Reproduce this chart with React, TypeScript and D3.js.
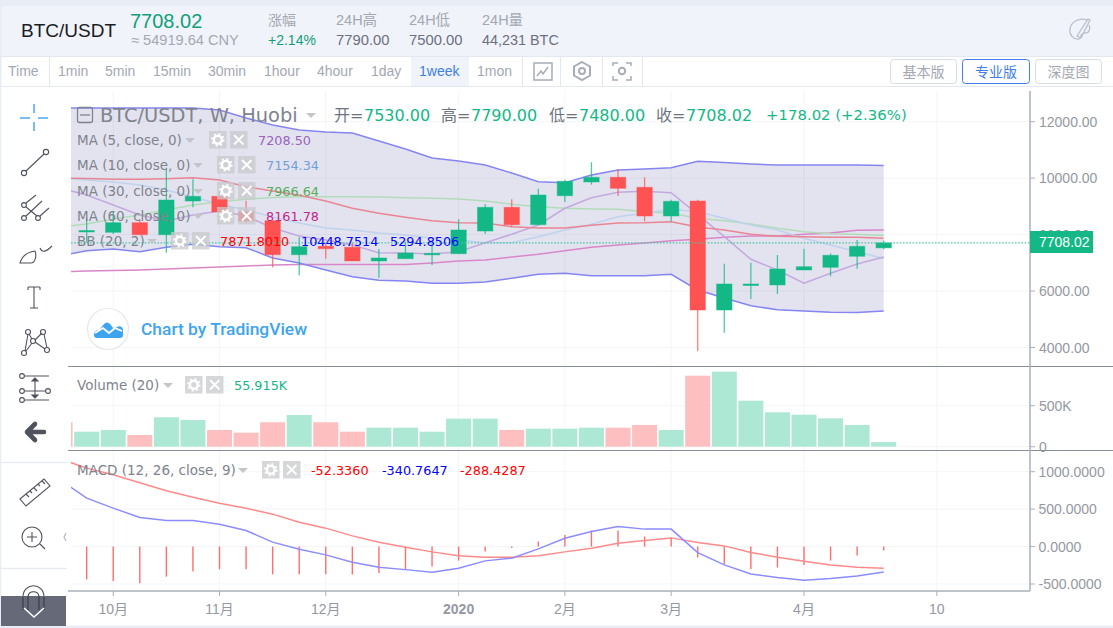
import * as d3 from "d3";

// first entry of every series is the week cut off behind the left toolbar
const opens = [8560, 8120, 8081, 8422, 7996, 9190, 9357, 8811, 8492, 7288, 7585, 7550, 7065, 7146, 7313, 7323, 8127, 8967, 8351, 9378, 9864, 10030, 9676, 8659, 9190, 5328, 6210, 6215, 6746, 6841, 7231, 7530];
const highs = [8700, 8590, 8800, 8553, 10370, 9959, 9545, 9201, 8492, 7904, 7702, 7713, 7490, 7748, 7713, 8542, 9084, 9251, 9626, 9945, 10562, 10314, 10030, 9236, 9236, 6969, 7004, 7277, 7500, 7337, 7809, 7790];
const lows = [7900, 7720, 8020, 7996, 7359, 8967, 8801, 8422, 6841, 6558, 7146, 7065, 6473, 7146, 6923, 7323, 8021, 8280, 8351, 9155, 9768, 9368, 8471, 8471, 3865, 4524, 5718, 5895, 6746, 6523, 6792, 7480];
const closes = [8120, 8145, 8422, 7996, 9226, 9357, 8801, 8482, 7288, 7571, 7500, 7065, 7171, 7348, 7337, 8163, 8967, 8351, 9403, 9888, 10030, 9640, 8659, 9180, 5328, 6250, 6250, 6781, 6863, 7267, 7585, 7708.02];
const volumes = [298, 183, 204, 143, 359, 326, 204, 171, 298, 387, 298, 183, 232, 232, 183, 342, 342, 204, 220, 220, 232, 232, 265, 204, 866, 915, 561, 420, 390, 346, 265, 55.915];

const bbUpper = [12485, 12485, 12485, 12485, 12485, 12485, 12415, 12131, 11883, 11706, 11635, 11600, 11316, 11033, 10714, 10608, 10466, 10182, 9874, 9839, 10112, 10289, 10324, 10370, 10597, 10554, 10501, 10466, 10466, 10466, 10466, 10449];
const bbLower = [7242, 7430, 7490, 7394, 7550, 7656, 7571, 7536, 7171, 6994, 6746, 6508, 6381, 6356, 6275, 6275, 6320, 6452, 6593, 6629, 6544, 6544, 6544, 6593, 6037, 5754, 5481, 5339, 5290, 5250, 5240, 5295];
const bbBasis = [10005, 9988, 9959, 9959, 9980, 10016, 9934, 9697, 9545, 9392, 9190, 8932, 8755, 8613, 8492, 8422, 8411, 8280, 8234, 8234, 8329, 8411, 8422, 8457, 8269, 8163, 8011, 7940, 7926, 7904, 7904, 7872];
const ma5 = [9651, 9403, 9049, 8694, 8482, 8694, 8836, 8659, 8234, 7950, 7809, 7631, 7359, 7348, 7313, 7394, 7713, 8011, 8340, 8932, 9307, 9499, 9534, 9484, 8719, 7926, 7125, 6746, 6275, 6629, 6958, 7208];
const ma10 = [10005, 9934, 9864, 9757, 9580, 9332, 9084, 8872, 8624, 8411, 8234, 8163, 8057, 7986, 7880, 7809, 7713, 7713, 7926, 8163, 8365, 8634, 8755, 8896, 8811, 8578, 8340, 8163, 7869, 7631, 7394, 7154];
const ma30 = [8269, 8376, 8553, 8694, 8872, 9049, 9166, 9251, 9314, 9343, 9343, 9343, 9332, 9307, 9286, 9261, 9190, 9073, 8988, 8932, 8907, 8896, 8811, 8755, 8578, 8492, 8376, 8223, 8103, 8032, 8011, 7967];
const ma60 = [6675, 6710, 6728, 6746, 6781, 6817, 6852, 6888, 6923, 6941, 6941, 6941, 6941, 6941, 6994, 7065, 7100, 7206, 7302, 7429, 7550, 7631, 7702, 7784, 7833, 7904, 7950, 7950, 8011, 8057, 8150, 8162];

const macdLine = [891, 647, 513, 388, 348, 348, 299, 214, 59, -35, -111, -209, -275, -308, -342, -289, -191, -155, -31, 112, 201, 267, 233, 233, -80, -245, -365, -414, -449, -428, -392, -341];
const signalLine = [1173, 1048, 959, 852, 745, 660, 580, 513, 433, 326, 246, 143, 59, -8, -71, -124, -142, -142, -124, -71, -21, 45, 80, 116, 53, 9, -80, -142, -195, -245, -275, -288];
const histogram = [-420, -437, -459, -490, -401, -334, -303, -303, -370, -370, -370, -374, -352, -312, -267, -187, -67, -18, 67, 156, 214, 214, 134, 120, -147, -236, -298, -280, -245, -187, -120, -52];

const priceTicks = [12000, 10000, 8000, 6000, 4000];
const volumeTicks = [500, 0];
const volumeTickLabels = ["500K", "0"];
const macdTicks = [1000, 500, 0, -500];
const timeTicks = [2, 6, 10, 15, 19, 23, 28, 33];
const timeLabels = ["10月", "11月", "12月", "2020", "2月", "3月", "4月", "10"];
const intervals = ["Time", "1min", "5min", "15min", "30min", "1hour", "4hour", "1day", "1week", "1mon"];
const intervalX = [8, 58, 105, 153, 208, 264, 317, 371, 419, 477];
const toolbarDividers = [49, 522, 560, 602, 642];

const W = 1113;
const H = 628;
const PLOT_L = 71;
const PLOT_R = 1030;
const GREEN = "#13b886";
const RED = "#ff5252";
const GREY = "#9598a1";
const LEGEND = "#80838d";
const UI_FONT = "'Liberation Sans', 'Noto Sans CJK SC', sans-serif";
const CHART_FONT = "'DejaVu Sans', 'Noto Sans CJK SC', sans-serif";

const x = d3.scaleLinear().domain([0, 31]).range([60.1, 883.7]);
const yPrice = d3.scaleLinear().domain([4000, 12000]).range([347.5, 121.7]);
const yVolume = d3.scaleLinear().domain([0, 500]).range([446.7, 405.7]);
const yMacd = d3.scaleLinear().domain([-500, 1000]).range([584, 471.7]);

const priceLine = (s: number[]) =>
  d3.line<number>().x((_, i) => x(i)).y((d) => yPrice(d))(s) ?? undefined;
const macdPath = (s: number[]) =>
  d3.line<number>().x((_, i) => x(i)).y((d) => yMacd(d))(s) ?? undefined;
const bandPath =
  d3
    .area<number>()
    .x((_, i) => x(i))
    .y0((_, i) => yPrice(bbLower[i]))
    .y1((d) => yPrice(d))(bbUpper) ?? undefined;

const Sans = ({ x: tx, y, size = 14, fill = "#50535e", children, anchor }: any) => (
  <text x={tx} y={y} fontSize={size} fill={fill} fontFamily={UI_FONT} textAnchor={anchor} dominantBaseline="central">
    {children}
  </text>
);

const Leg = ({ x: tx, y, size = 13.5, fill = LEGEND, children, opacity }: any) => (
  <text x={tx} y={y} fontSize={size} fill={fill} fontFamily={CHART_FONT} dominantBaseline="central" opacity={opacity}>
    {children}
  </text>
);

const Buttons = ({ gx, cy }: { gx: number; cy: number }) => (
  <g>
    <rect x={gx} y={cy - 9} width={17.5} height={17.5} fill="#c8c9cc" opacity={0.75} />
    <circle cx={gx + 8.8} cy={cy - 0.2} r={4} fill="none" stroke="#fff" strokeWidth={2.6} />
    <circle cx={gx + 8.8} cy={cy - 0.2} r={6} fill="none" stroke="#fff" strokeWidth={1.6} strokeDasharray="2 2.7" />
    <rect x={gx + 21} y={cy - 9} width={17.5} height={17.5} fill="#c8c9cc" opacity={0.75} />
    <path d={`M${gx + 25} ${cy - 5}l9.5 9.5m0 -9.5l-9.5 9.5`} stroke="#fff" strokeWidth={1.8} />
  </g>
);

const Caret = ({ cx, cy }: { cx: number; cy: number }) => (
  <path d={`M${cx - 5} ${cy - 2}h10l-5 5z`} fill="#c4c5c9" />
);

const ToolIcons = () => (
  <g fill="none" stroke="#50535e" strokeWidth={1.1}>
    <path d="M34 104v9M34 122v9M20 118h10M38 118h10" stroke="#4ea8ee" strokeWidth={1.5} />
    <circle cx={24} cy={173} r={2.6} />
    <circle cx={46} cy={152} r={2.6} />
    <path d="M26 171L44 154" />
    <circle cx={24} cy={205} r={2.4} />
    <circle cx={24} cy={218} r={2.4} />
    <circle cx={38} cy={218} r={2.4} />
    <path d="M26 203l10 -8M26 216l16 -15M40 216l9 -8M26 207l11 9" />
    <path d="M20 263c2 -7 8 -11 15 -12c2 5 0 12 -4 12zM40 248c2 5 6 4 12 -2" />
    <path d="M28 287h12M34 287v21M30 308h8M28 287v3M40 287v3" />
    <circle cx={24} cy={353} r={2.5} />
    <circle cx={28} cy={332} r={2.5} />
    <circle cx={33} cy={341} r={2.5} />
    <circle cx={43} cy={332} r={2.5} />
    <circle cx={47} cy={350} r={2.5} />
    <path d="M25 351l3 -17M29 334l3 5M35 340l7 -7M44 334l3 14M35 342l10 7M26 351l6 -8" />
    <circle cx={22} cy={376} r={2.4} />
    <circle cx={22} cy={391} r={2.4} />
    <circle cx={22} cy={400} r={2.4} />
    <circle cx={48} cy={391} r={2.4} />
    <path d="M25 376h24M25 391h21M25 400h24M35 379v18" />
    <path d="M35 378l-3 3h6zM35 398l-3 -3h6z" fill="#50535e" />
    <path d="M27 432l8 -8M27 432l8 8M28 432h16" stroke="#50535e" strokeWidth={4.6} strokeLinecap="round" strokeLinejoin="round" />
    <path d="M20 499l24 -20l6 7l-24 20zM26 494l3 3M30 491l2 2M34 488l3 3M38 484l2 2M42 481l3 3" />
    <circle cx={32} cy={537} r={10} />
    <path d="M40 544l5 5M27 537h10M32 532v10" />
    <path d="M66 533l-2 4l2 4" stroke="#a9b4c4" />
  </g>
);

export default function App() {
  return (
    <svg width={W} height={H} viewBox={`0 0 ${W} ${H}`} style={{ position: "fixed", left: 0, top: 0, background: "#fff" }}>
      <defs>
        <clipPath id="price-clip"><rect x={PLOT_L} y={91} width={PLOT_R - PLOT_L} height={275} /></clipPath>
        <clipPath id="volume-clip"><rect x={PLOT_L} y={367} width={PLOT_R - PLOT_L} height={83} /></clipPath>
        <clipPath id="macd-clip"><rect x={PLOT_L} y={451} width={PLOT_R - PLOT_L} height={139} /></clipPath>
      </defs>

      {/* page frame and header */}
      <rect width={W} height={6} fill="#e8edf5" />
      <rect y={6} width={W} height={50} fill="#f0f3f9" />
      <rect y={0} width={1.5} height={H} fill="#e8edf5" />
      <rect y={625.5} width={W} height={3} fill="#e8edf5" />
      <line x1={0} x2={W} y1={56.5} y2={56.5} stroke="#e3e8f0" />
      <line x1={0} x2={W} y1={86.5} y2={86.5} stroke="#e3e8f0" />

      <Sans x={21} y={30} size={19} fill="#1a1d26">BTC/USDT</Sans>
      <Sans x={130} y={21} size={20} fill="#109f7a">7708.02</Sans>
      <Sans x={131} y={40} size={14.6} fill="#a4a8b2">≈ 54919.64 CNY</Sans>
      <Sans x={268} y={20} size={14} fill="#a4a8b2">涨幅</Sans>
      <Sans x={268} y={40} size={14} fill="#109f7a">+2.14%</Sans>
      <Sans x={336} y={20} size={14.5} fill="#a4a8b2">24H高</Sans>
      <Sans x={336} y={40} size={14.8} fill="#6c7080">7790.00</Sans>
      <Sans x={409} y={20} size={14.5} fill="#a4a8b2">24H低</Sans>
      <Sans x={409} y={40} size={14.8} fill="#6c7080">7500.00</Sans>
      <Sans x={482} y={20} size={14.5} fill="#a4a8b2">24H量</Sans>
      <Sans x={482} y={40} size={14.4} fill="#6c7080">44,231 BTC</Sans>
      <g fill="none" stroke="#b6bfcc" strokeWidth={1.3}>
        <path d="M1087 20c-8 -3 -16 2 -17 9c-1 6 4 11 9 10c3 -1 1 -4 3 -5c3 -2 6 0 7 -3c1 -2 1 -4 0 -6" />
        <path d="M1077 36l11 -17l2 1l-9 18z" />
      </g>

      {/* interval bar */}
      <rect x={411} y={57} width={58} height={29} fill="#f0f3f9" />
      {intervals.map((t, i) => (
        <Sans key={t} x={intervalX[i]} y={71} size={14} fill={t === "1week" ? "#3f7fe8" : "#a4a8b2"}>{t}</Sans>
      ))}
      {toolbarDividers.map((d) => (
        <line key={d} x1={d + 0.5} x2={d + 0.5} y1={57} y2={86} stroke="#e3e8f0" />
      ))}
      <g fill="none" stroke="#a7adb8" strokeWidth={1.5}>
        <rect x={534} y={63} width={18} height={17} />
        <path d="M537 76l4 -5l2 3l5 -7" />
        <path d="M582 62l8 4.5v9l-8 4.5l-8 -4.5v-9z" strokeWidth={2} />
        <circle cx={582} cy={71} r={3} strokeWidth={2} />
        <path d="M613 66v-3h5M626 63h5v3M631 76v4h-5M618 80h-5v-4" />
        <circle cx={622} cy={71} r={3.2} strokeWidth={2} />
      </g>
      {[
        { label: "基本版", bx: 890.5, bw: 66, c: "#d8dce3", t: "#a4a8b2" },
        { label: "专业版", bx: 962.5, bw: 67, c: "#3f7fe8", t: "#3f7fe8" },
        { label: "深度图", bx: 1035.5, bw: 66, c: "#d8dce3", t: "#a4a8b2" },
      ].map((b) => (
        <g key={b.label}>
          <rect x={b.bx} y={59.5} width={b.bw} height={24} rx={3} fill="#fff" stroke={b.c} />
          <Sans x={b.bx + b.bw / 2} y={72} size={14} fill={b.t} anchor="middle">{b.label}</Sans>
        </g>
      ))}

      {/* grid */}
      <g stroke="#f4f5f7">
        {timeTicks.map((t) => (
          <line key={t} x1={x(t)} x2={x(t)} y1={91} y2={590} />
        ))}
        {priceTicks.map((t) => (
          <line key={t} x1={PLOT_L} x2={PLOT_R} y1={yPrice(t)} y2={yPrice(t)} />
        ))}
        {volumeTicks.map((t) => (
          <line key={t} x1={PLOT_L} x2={PLOT_R} y1={yVolume(t)} y2={yVolume(t)} />
        ))}
        {macdTicks.map((t) => (
          <line key={t} x1={PLOT_L} x2={PLOT_R} y1={yMacd(t)} y2={yMacd(t)} />
        ))}
      </g>

      {/* price pane */}
      <g clipPath="url(#price-clip)" fill="none" strokeWidth={1.5}>
        <path d={bandPath} fill="#2a2a8c" fillOpacity={0.13} stroke="none" />
        <path d={priceLine(ma60)} stroke="#d987c8" />
        <path d={priceLine(ma30)} stroke="#b2dcb9" />
        <path d={priceLine(ma10)} stroke="#bfd2ee" />
        <path d={priceLine(ma5)} stroke="#c4a9de" />
        <path d={priceLine(bbBasis)} stroke="#ea8593" />
        <path d={priceLine(bbUpper)} stroke="#8585f2" />
        <path d={priceLine(bbLower)} stroke="#8585f2" />
        {closes.map((c, i) => {
          const up = c >= opens[i];
          const color = up ? GREEN : RED;
          const top = yPrice(Math.max(c, opens[i]));
          const bottom = yPrice(Math.min(c, opens[i]));
          return (
            <g key={i}>
              <line x1={x(i)} x2={x(i)} y1={yPrice(highs[i])} y2={yPrice(lows[i])} stroke={color} strokeWidth={1.3} strokeOpacity={0.75} />
              <rect
                x={x(i) - 7.7}
                y={top}
                width={15.4}
                height={Math.max(bottom - top, 1.5)}
                fill={color}
                stroke={color}
                strokeOpacity={0.45}
                strokeWidth={1}
              />
            </g>
          );
        })}
        <line x1={PLOT_L} x2={PLOT_R} y1={yPrice(7708.02)} y2={yPrice(7708.02)} stroke="#4cc7a1" strokeWidth={1.4} strokeDasharray="1.6 1.6" />
      </g>

      {/* price legend */}
      <rect x={77.5} y={107.5} width={15} height={15} rx={2} fill="none" stroke="#80838d" strokeWidth={1.3} />
      <line x1={80} x2={90} y1={115} y2={115} stroke="#80838d" strokeWidth={1.3} />
      <Leg x={100} y={115} size={19.4}>BTC/USDT, W, Huobi</Leg>
      <Caret cx={311} cy={115} />
      {[
        { label: "开=", val: "7530.00", lx: 334 },
        { label: "高=", val: "7790.00", lx: 441 },
        { label: "低=", val: "7480.00", lx: 549 },
        { label: "收=", val: "7708.02", lx: 656 },
      ].map((o) => (
        <g key={o.label}>
          <Leg x={o.lx} y={115} size={16} fill="#70737e">{o.label}</Leg>
          <Leg x={o.lx + 30} y={115} size={16} fill={GREEN}>{o.val}</Leg>
        </g>
      ))}
      <Leg x={766} y={115} size={14.9} fill={GREEN}>+178.02 (+2.36%)</Leg>

      {[
        { name: "MA (5, close, 0)", val: "7208.50", cy: 140, car: 190, gx: 209, vx: 258, c: "#9a63bd" },
        { name: "MA (10, close, 0)", val: "7154.34", cy: 165, car: 198, gx: 217, vx: 266, c: "#6fa0d8" },
        { name: "MA (30, close, 0)", val: "7966.64", cy: 191, car: 198, gx: 217, vx: 266, c: "#55ae55" },
        { name: "MA (60, close, 0)", val: "8161.78", cy: 216, car: 198, gx: 217, vx: 266, c: "#c0288c" },
      ].map((r) => (
        <g key={r.name}>
          <Leg x={77} y={r.cy}>{r.name}</Leg>
          <Caret cx={r.car} cy={r.cy} />
          <Buttons gx={r.gx} cy={r.cy} />
          <Leg x={r.vx} y={r.cy} size={12.8}>
            <tspan fill={r.c}>{r.val}</tspan>
          </Leg>
        </g>
      ))}
      <Leg x={77} y={241}>BB (20, 2)</Leg>
      <Caret cx={152} cy={241} />
      <Buttons gx={171} cy={241} />
      <Leg x={220} y={241} size={12.8} fill="#ff0000">7871.8010</Leg>
      <Leg x={301} y={241} size={12.8} fill="#0000ff">10448.7514</Leg>
      <Leg x={390} y={241} size={12.8} fill="#0000ff">5294.8506</Leg>

      {/* TradingView badge */}
      <circle cx={108} cy={329} r={20.5} fill="#fff" stroke="#e6e8ec" strokeWidth={1.2} />
      <path d="M94 335c0 -4 3 -5 5 -5l5 -6c2 -2 4 -2 6 0l4 5l3 -2c3 -2 6 0 6 3v5c0 2 -1 3 -3 3h-23c-2 0 -3 -1 -3 -3z" fill="#3da5ee" />
      <path d="M95 333l8 -5l6 5l6 -5l7 3" fill="none" stroke="#fff" strokeWidth={1.8} />
      <text x={141} y={329} fontSize={17.4} fontWeight={500} fill="#3da5ee" fontFamily="Roboto, sans-serif" dominantBaseline="central">Chart by TradingView</text>

      {/* volume pane */}
      <g clipPath="url(#volume-clip)">
        {volumes.map((v, i) => (
          <rect
            key={i}
            x={x(i) - 12.5}
            y={yVolume(v)}
            width={25}
            height={yVolume(0) - yVolume(v)}
            fill={closes[i] >= opens[i] ? "#ade8d4" : "#fdbfbf"}
          />
        ))}
      </g>
      <Leg x={77} y={385}>Volume (20)</Leg>
      <Caret cx={168} cy={385} />
      <Buttons gx={185} cy={385} />
      <Leg x={234} y={385} size={12.8} fill={GREEN}>55.915K</Leg>

      {/* MACD pane */}
      <g clipPath="url(#macd-clip)" fill="none">
        {histogram.map((v, i) => (
          <line key={i} x1={x(i)} x2={x(i)} y1={yMacd(0)} y2={yMacd(v)} stroke="#ff6e6e" strokeWidth={1.4} />
        ))}
        <path d={macdPath(signalLine)} stroke="#ff8a8a" strokeWidth={1.5} />
        <path d={macdPath(macdLine)} stroke="#8c8cff" strokeWidth={1.5} />
      </g>
      <Leg x={77} y={470}>MACD (12, 26, close, 9)</Leg>
      <Caret cx={243} cy={470} />
      <Buttons gx={262} cy={470} />
      <Leg x={311} y={470} size={12.8} fill="#ff0000">-52.3360</Leg>
      <Leg x={382} y={470} size={12.8} fill="#0000ff">-340.7647</Leg>
      <Leg x={460} y={470} size={12.8} fill="#ff0000">-288.4287</Leg>

      {/* pane separators and axes */}
      <line x1={68} x2={W} y1={366.5} y2={366.5} stroke="#868c98" strokeWidth={1.2} />
      <line x1={68} x2={W} y1={450.5} y2={450.5} stroke="#868c98" strokeWidth={1.2} />
      <line x1={68} x2={PLOT_R} y1={591} y2={591} stroke="#aab0ba" strokeWidth={1.5} />
      <line x1={PLOT_R} x2={PLOT_R} y1={91} y2={591} stroke="#aab0ba" strokeWidth={1.5} />
      {priceTicks.map((t) => (
        <g key={t}>
          <line x1={PLOT_R} x2={PLOT_R + 5} y1={yPrice(t)} y2={yPrice(t)} stroke="#aab0ba" />
          <Sans x={1039} y={yPrice(t)} size={14} fill={GREY}>{t.toFixed(2)}</Sans>
        </g>
      ))}
      {volumeTicks.map((t, i) => (
        <g key={t}>
          <line x1={PLOT_R} x2={PLOT_R + 5} y1={yVolume(t)} y2={yVolume(t)} stroke="#aab0ba" />
          <Sans x={1039} y={yVolume(t)} size={14} fill={GREY}>{volumeTickLabels[i]}</Sans>
        </g>
      ))}
      {macdTicks.map((t) => (
        <g key={t}>
          <line x1={PLOT_R} x2={PLOT_R + 5} y1={yMacd(t)} y2={yMacd(t)} stroke="#aab0ba" />
          <Sans x={1038.5} y={yMacd(t)} size={14} fill={GREY}>{t.toFixed(4)}</Sans>
        </g>
      ))}
      {timeTicks.map((t, i) => (
        <g key={t}>
          <line x1={x(t)} x2={x(t)} y1={591} y2={596} stroke="#aab0ba" />
          <text
            x={x(t)}
            y={609}
            fontSize={14}
            fill={GREY}
            fontWeight={timeLabels[i] === "2020" ? 700 : 400}
            fontFamily={UI_FONT}
            textAnchor="middle"
            dominantBaseline="central"
          >
            {timeLabels[i]}
          </text>
        </g>
      ))}
      <rect x={PLOT_R} y={231} width={63} height={22} fill={GREEN} />
      <Sans x={1039} y={242} size={14} fill="#fff">7708.02</Sans>

      {/* drawing toolbar */}
      <rect x={1.5} y={87} width={66} height={538} fill="#fff" />
      <line x1={1.5} x2={67} y1={462.5} y2={462.5} stroke="#e8ebf0" strokeWidth={1.5} />
      <line x1={1.5} x2={67} y1={568.5} y2={568.5} stroke="#e8ebf0" strokeWidth={1.5} />
      <ToolIcons />
      <path d="M23 604v-7c0 -15 21 -15 21 0v7" fill="none" stroke="#50535e" strokeWidth={1.2} />
      <rect x={1} y={596} width={65} height={30} fill="#666a78" />
      <path d="M28 610v-13c0 -7 11 -7 11 0v13M23 597v13M44 597v13" fill="none" stroke="#3c3e48" strokeWidth={1.2} />
      <path d="M24 608l10 9l10 -9" fill="none" stroke="#fff" strokeWidth={1.5} />
    </svg>
  );
}
